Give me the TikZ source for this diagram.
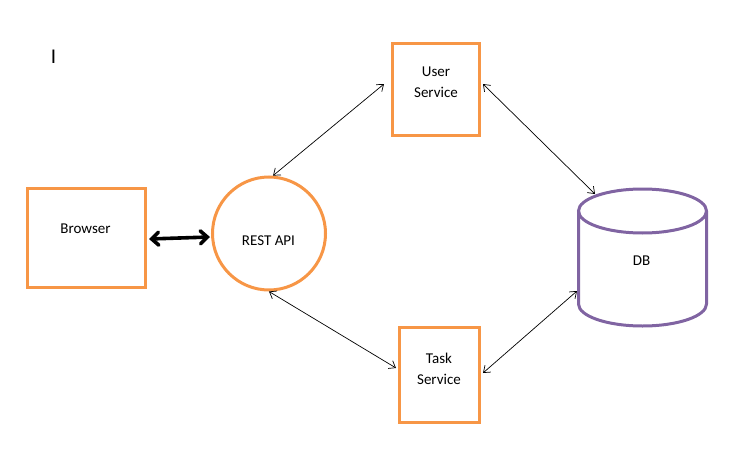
\documentclass[tikz,border=0pt]{standalone}
\usepackage{fontspec}
\setmainfont{Carlito}
\usetikzlibrary{arrows.meta}
\definecolor{offorange}{HTML}{F79646}
\definecolor{offpurple}{HTML}{8064A2}
\begin{document}
\begin{tikzpicture}[x=1pt,y=-1pt,
  box/.style={draw=offorange,line width=3pt,minimum width=#1,inner sep=0pt},
  lbl/.style={font=\fontsize{15}{18}\selectfont,align=center,inner sep=0pt},
  conn/.style={draw=black,line width=0.7pt,{Straight Barb[length=6pt,width=9pt]}-{Straight Barb[length=6pt,width=9pt]}},
  thick conn/.style={draw=black,line width=3.6pt,line cap=round,{Straight Barb[length=7pt,width=13pt,line cap=round]}-{Straight Barb[length=7pt,width=13pt,line cap=round]}}]
\useasboundingbox (0,0) rectangle (756,471);
% nodes
\node[box=118pt,minimum height=99pt] (browser) at (86.5,238) {};
\node[draw=offorange,line width=3pt,circle,minimum size=113pt,inner sep=0pt] (rest) at (269,233.5) {};
\node[box=87pt,minimum height=92pt] (user) at (436,89.5) {};
\node[box=80pt,minimum height=95pt] (task) at (439.5,375) {};
\node[minimum width=128pt,minimum height=137pt,inner sep=0pt] (db) at (642.5,257.5) {};
% cylinder
\draw[offpurple,line width=3pt] (578.5,211) -- (578.5,304) arc[start angle=180,end angle=0,x radius=64,y radius=22] -- (706.5,211);
\draw[offpurple,line width=3pt] (642.5,211) ellipse[x radius=64,y radius=22];
% labels
\node[lbl] (browser-t) at (85.5,229) {Browser};
\node[lbl] (rest-t) at (268.5,241) {REST API};
\node[lbl] (user-t) at (436,82) {User\\[3pt]Service};
\node[lbl] (task-t) at (439,369) {Task\\[3pt]Service};
\node[lbl] (db-t) at (641.5,261) {DB};
\node[font=\fontsize{21}{24}\selectfont,inner sep=0pt] (cursor) at (53.5,57) {I};
% connectors
\coordinate (u-l) at (384,84);
\coordinate (d-t) at (595,194);
\coordinate (d-l) at (577,291);
\draw[conn] (user.west |- u-l) ++(-7,0) -- (rest.86);
\draw[conn] ([xshift=2pt,yshift=5.5pt]user.east) -- (d-t);
\draw[conn] (rest.south) -- ([xshift=-2pt,yshift=7pt]task.west);
\draw[conn] ([xshift=2pt,yshift=2pt]task.east) -- (d-l);
\draw[thick conn] ([xshift=2pt,yshift=-1pt]browser.east) -- ([xshift=-1pt,yshift=-3.5pt]rest.west);
\end{tikzpicture}
\end{document}
